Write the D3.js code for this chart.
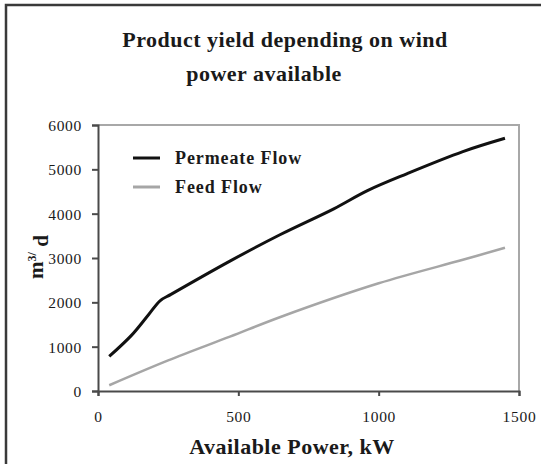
<!DOCTYPE html>
<html><head><meta charset="utf-8">
<script src="https://cdn.jsdelivr.net/npm/d3@7"></script>
<style>
body{margin:0;background:#fff;}
svg text{font-family:"Liberation Serif","Times New Roman",serif;fill:#1a1a1a;}
</style></head>
<body><svg id="c" width="541" height="464"></svg>
<script>
const titleLines = ["Product yield depending on wind", "power available"];
const xLabel = "Available Power, kW";
const seriesNames = ["Permeate Flow", "Feed Flow"];
const xTicks = [0, 500, 1000, 1500];
const yTicks = [0, 1000, 2000, 3000, 4000, 5000, 6000];
const permeateX = [40, 120, 180, 222, 260, 470, 650, 840, 960, 1100, 1300, 1450];
const permeateY = [780, 1260, 1720, 2040, 2180, 2930, 3530, 4110, 4520, 4900, 5400, 5700];
const feedX = [40, 250, 470, 650, 1000, 1300, 1450];
const feedY = [130, 690, 1225, 1670, 2430, 2960, 3230];

const svg = d3.select("#c");
const L = 98, R = 519, T = 125, B = 391;
const x = d3.scaleLinear().domain([0, 1500]).range([L, R]);
const y = d3.scaleLinear().domain([0, 6000]).range([B, T]);

// outer frame (top & left visible)
svg.append("rect").attr("x", 6).attr("y", 5).attr("width", 560).attr("height", 480)
  .attr("fill", "none").attr("stroke", "#3a3a3a").attr("stroke-width", 2.5);

// plot frame top/right
svg.append("path").attr("d", `M${L},${T}H${R}V${B}`).attr("fill", "none")
  .attr("stroke", "#a8a8a8").attr("stroke-width", 2);

// axes
const xa = svg.append("g").attr("transform", `translate(0,${B})`)
  .call(d3.axisBottom(x).tickValues(xTicks).tickSize(5).tickPadding(15).tickFormat(d3.format("d")));
const ya = svg.append("g").attr("transform", `translate(${L},0)`)
  .call(d3.axisLeft(y).tickValues(yTicks).tickSize(6).tickPadding(10).tickFormat(d3.format("d")));
[xa, ya].forEach(a => {
  a.select(".domain").attr("stroke", "#4a4a4a").attr("stroke-width", 2);
  a.selectAll(".tick line").attr("stroke", "#4a4a4a").attr("stroke-width", 2);
  a.selectAll("text").style("font-family", "'Liberation Serif',serif").style("font-size", "15.5px")
    .style("letter-spacing", "0.7px").attr("fill", "#222");
});
ya.selectAll(".tick text").attr("dy", "0.35em");

// lines
const line = d3.line().x(d => x(d[0])).y(d => y(d[1])).curve(d3.curveCatmullRom.alpha(0.5));
svg.append("path").datum(feedX.map((v, i) => [v, feedY[i]])).attr("d", line)
  .attr("fill", "none").attr("stroke", "#a6a6a6").attr("stroke-width", 2.5);
svg.append("path").datum(permeateX.map((v, i) => [v, permeateY[i]])).attr("d", line)
  .attr("fill", "none").attr("stroke", "#111").attr("stroke-width", 3);

// legend
const legColors = ["#111", "#a6a6a6"];
const legY = [158, 187];
seriesNames.forEach((n, i) => {
  svg.append("line").attr("x1", 133).attr("x2", 160).attr("y1", legY[i]).attr("y2", legY[i])
    .attr("stroke", legColors[i]).attr("stroke-width", 3);
  svg.append("text").attr("x", 175).attr("y", legY[i] + 6).text(n)
    .style("font-size", "18px").style("font-weight", "bold").style("letter-spacing", "0.9px");
});

// title
const tx = [285, 264], ty = [47, 81];
titleLines.forEach((t, i) => {
  svg.append("text").attr("x", tx[i]).attr("y", ty[i]).attr("text-anchor", "middle").text(t)
    .style("font-size", "22px").style("font-weight", "bold").style("letter-spacing", "0.5px");
});

// x label
svg.append("text").attr("x", 292).attr("y", 454).attr("text-anchor", "middle").text(xLabel)
  .style("font-size", "22px").style("font-weight", "bold").style("letter-spacing", "0.5px");

// y label
const yl = svg.append("text").attr("transform", "translate(43,257) rotate(-90)").attr("text-anchor", "middle")
  .style("font-size", "21px").style("font-weight", "bold");
yl.append("tspan").text("m");
yl.append("tspan").attr("dy", "-0.6em").style("font-size", "12px").text("3/");
yl.append("tspan").attr("dy", "0.6em").text(" d");
</script></body></html>
